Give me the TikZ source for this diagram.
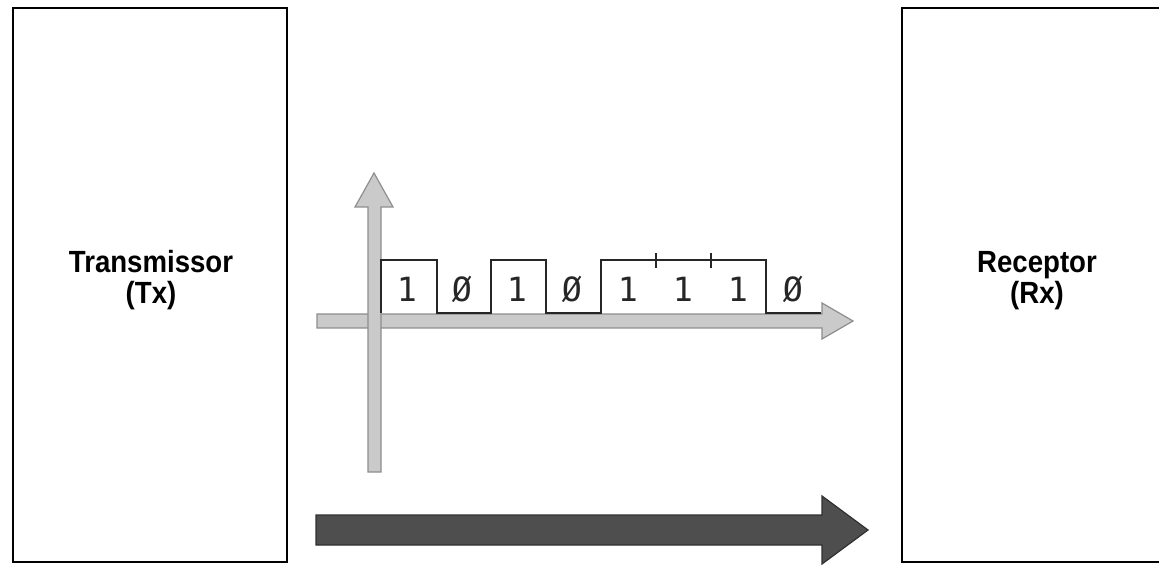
\documentclass[tikz,border=0pt]{standalone}
\usepackage{fontspec}
\setmainfont{Liberation Sans}
\newfontfamily\bitfont{DejaVu Sans Mono}
\definecolor{axisfill}{HTML}{CACACA}
\definecolor{axisline}{HTML}{8E8E8E}
\definecolor{darkfill}{HTML}{4E4E4E}
\definecolor{darkline}{HTML}{303030}
\tikzset{
  unitbox/.style={draw=black, line width=1.4pt, inner sep=0pt, fill=none},
  lbl/.style={anchor=base, inner sep=0pt, font=\fontsize{23}{23}\selectfont\bfseries},
  bit/.style={anchor=base, inner sep=0pt, font=\fontsize{25}{25}\selectfont\bitfont, text=black!85},
  axisarrow/.style={fill=axisfill, draw=axisline, line width=0.9pt, line join=miter},
  dataarrow/.style={fill=darkfill, draw=darkline, line width=0.9pt, line join=miter},
  signal/.style={draw=black!85, line width=1.1pt, line join=miter}
}
\begin{document}
\begin{tikzpicture}[x=0.75pt,y=-0.75pt]
\useasboundingbox (0,0) rectangle (1159,566);
% boxes
\node[unitbox, minimum width=205.5pt, minimum height=415.5pt] (tx) at (150,285) {};
\node[unitbox, minimum width=204pt, minimum height=415.5pt] (rx) at (1038,285) {};
\node[lbl] (txa) at (151,273) {\scalebox{0.9}[1]{Transmissor}};
\node[lbl] (txb) at (151,304) {\scalebox{0.9}[1]{(Tx)}};
\node[lbl] (rxa) at (1037,273) {\scalebox{0.9}[1]{Receptor}};
\node[lbl] (rxb) at (1037,304) {\scalebox{0.9}[1]{(Rx)}};
% horizontal axis
\draw[axisarrow] (317,314) -- (822,314) -- (822,303) -- (853,321) -- (822,339) -- (822,328) -- (317,328) -- cycle;
% vertical axis
\draw[axisarrow] (368,472) -- (368,207) -- (355,207) -- (374,173) -- (393,207) -- (381,207) -- (381,472) -- cycle;
% signal
\coordinate (s0) at (381,313);
\coordinate (s9) at (821,313);
\draw[signal] (s0) -- (381,260) -- (437,260) -- (437,313) -- (491,313) -- (491,260) -- (546,260) -- (546,313) -- (601,313) -- (601,260) -- (766,260) -- (766,313) -- (s9);
\draw[signal] (656,253) -- (656,268);
\draw[signal] (711,253) -- (711,268);
% bits
\node[bit] (b1) at (407,302) {1};
\node[bit] (b2) at (462,302) {Ø};
\node[bit] (b3) at (517,302) {1};
\node[bit] (b4) at (572,302) {Ø};
\node[bit] (b5) at (628,302) {1};
\node[bit] (b6) at (683,302) {1};
\node[bit] (b7) at (738,302) {1};
\node[bit] (b8) at (793,302) {Ø};
% data arrow
\draw[dataarrow] (316,515) -- (822,515) -- (822,496) -- (868,530) -- (822,564) -- (822,545) -- (316,545) -- cycle;
\end{tikzpicture}
\end{document}
